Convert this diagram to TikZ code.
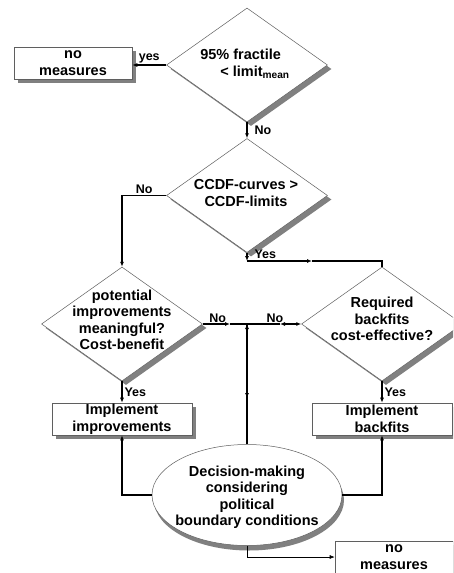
\documentclass[tikz,border=0pt]{standalone}
\usepackage{fontspec}
\setmainfont{Liberation Sans}
\usetikzlibrary{shapes.geometric,arrows.meta}
\definecolor{shadegray}{RGB}{128,128,128}
\definecolor{edgegray}{RGB}{95,95,95}

\begin{document}
\begin{tikzpicture}[x=1pt,y=-1pt,
  shade/.style={preaction={fill=shadegray,draw=none,transform canvas={shift={(#1)}}}},
  shade/.default={4pt,-4pt},
  decision/.style={diamond,draw=edgegray,line width=0.5pt,fill=white,minimum width=161pt,minimum height=114pt,inner sep=0pt,shade},
  action/.style={rectangle,draw=edgegray,line width=0.6pt,fill=white,minimum width=140pt,minimum height=32pt,inner sep=0pt,align=center,font=\bfseries\fontsize{14.5}{16.5}\selectfont,shade},
  decide/.style={ellipse,draw=edgegray,line width=0.5pt,fill=white,minimum width=190pt,minimum height=101pt,inner sep=0pt,shade={2pt,-5pt}},
  txt/.style={align=center,inner sep=0pt,font=\bfseries\fontsize{14.5}{16.5}\selectfont},
  lbl/.style={inner sep=1pt,font=\bfseries\fontsize{12.5}{14}\selectfont},
  flow/.style={draw=black,line width=1.1pt},
  tip/.style={-{Latex[length=5pt,width=4pt]}}
]
\clip (0,0) rectangle (453,573);
\fill[white] (0,0) rectangle (453,573);
% decisions
\node[decision] (q1) at (247,65) {};
\node[txt,align=left] (q1t) at (245,64) {95\% fractile\\\hspace*{20pt}< limit\textsubscript{mean}};
\node[decision] (q2) at (247,195.5) {};
\node[txt] (q2t) at (246,193) {CCDF-curves >\\CCDF-limits};
\node[decision] (q3) at (122,324) {};
\node[txt] (q3t) at (122,320) {potential\\improvements\\meaningful?\\Cost-benefit};
\node[decision] (q4) at (382,324) {};
\node[txt] (q4t) at (382,319) {Required\\backfits\\cost-effective?};
% actions
\node[action,minimum width=118pt] (nm1) at (73,63) {no\\measures};
\node[action] (imp) at (122,419) {Implement\\improvements};
\node[action] (bf) at (382,419) {Implement\\backfits};
\node[action,minimum width=118pt] (nm2) at (394,557) {no\\measures};
\node[decide] (dm) at (247,495) {};
\node[txt] (dmt) at (247,497) {Decision-making\\considering\\political\\boundary conditions};
% junctions
\coordinate (yb) at (247,261);
\coordinate (ym) at (312,261);
\coordinate (jn) at (247,324);
\coordinate (m3) at (230,324);
\coordinate (m4) at (280,324);
\coordinate (md) at (247,398);
% connectors
\draw[flow,tip] (q1.west) -- (q1.west -| nm1.east) node[lbl,midway,above] {yes};
\draw[flow,tip] (q1.south) -- (q2.north) node[lbl,midway,right=6pt] {No};
\draw[flow,tip] (q2.west) -| (q3.north) node[lbl,pos=0.25,above] {No};
\draw[flow,tip] (q2.south) -- (yb) node[lbl,pos=0.2,right=6pt] {Yes};
\draw[flow,tip] (yb) -- (ym);
\draw[flow] (ym) -| (q4.north);
\draw[flow,tip] (q3.east) -- (m3) node[lbl,pos=0.55,above] {No};
\draw[flow] (m3) -- (jn);
\draw[flow,{Latex[length=5pt,width=4pt]}-{Latex[length=5pt,width=4pt]}] (m4) -- (q4.west);
\draw[flow] (m4) -- (jn) node[lbl,pos=0.15,above] {No};
\draw[flow,tip] (dm.north) -- (jn);
\draw[flow,tip] (jn) -- (md);
\draw[flow,tip] (q3.south) -- (imp.north) node[lbl,midway,right=1pt] {Yes};
\draw[flow,tip] (q4.south) -- (bf.north) node[lbl,midway,right=1pt] {Yes};
\draw[flow,tip] (dm.west) -| (imp.south);
\draw[flow,tip] (dm.east) -| (bf.south);
\draw[draw=black,line width=0.6pt,tip] (dm.south) |- (nm2.west);
\end{tikzpicture}
\end{document}
